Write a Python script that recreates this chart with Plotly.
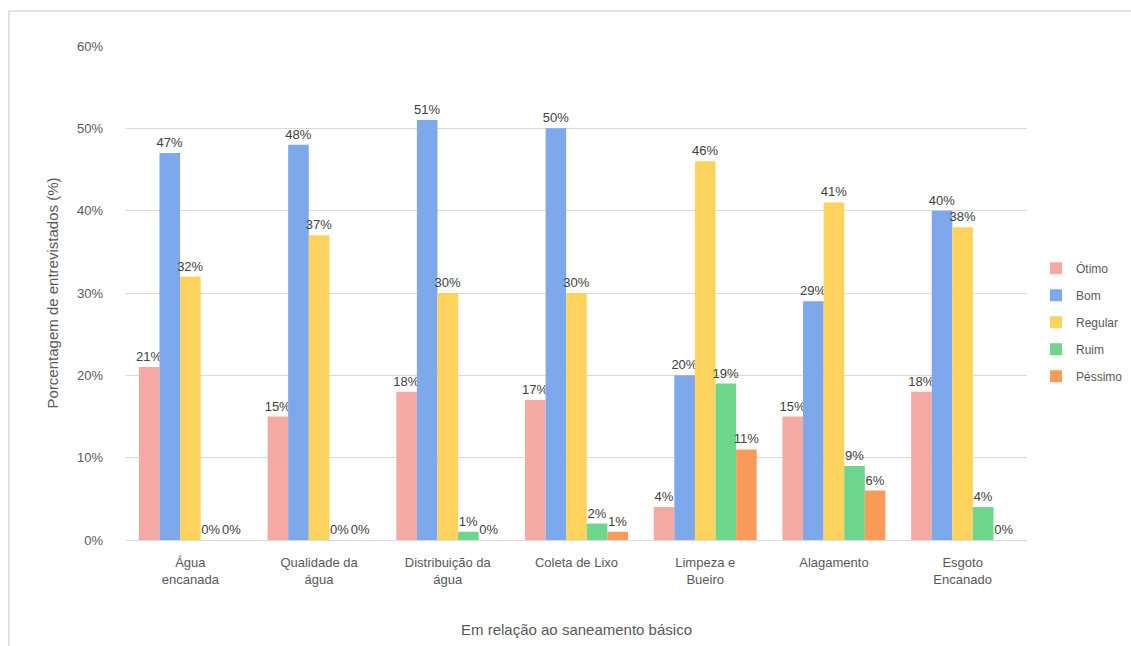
import plotly.graph_objects as go

categories = ["Água<br>encanada", "Qualidade da<br>água", "Distribuição da<br>água",
              "Coleta de Lixo", "Limpeza e<br>Bueiro", "Alagamento", "Esgoto<br>Encanado"]
series_names = ["Ótimo", "Bom", "Regular", "Ruim", "Péssimo"]
otimo = [0.21, 0.15, 0.18, 0.17, 0.04, 0.15, 0.18]
bom = [0.47, 0.48, 0.51, 0.50, 0.20, 0.29, 0.40]
regular = [0.32, 0.37, 0.30, 0.30, 0.46, 0.41, 0.38]
ruim = [0.00, 0.00, 0.01, 0.02, 0.19, 0.09, 0.04]
pessimo = [0.00, 0.00, 0.00, 0.01, 0.11, 0.06, 0.00]
colors = ["#F4A9A2", "#7EA8EC", "#FDD35E", "#6DD68C", "#F99A58"]
y_ticks = [0, 0.1, 0.2, 0.3, 0.4, 0.5, 0.6]

values = [otimo, bom, regular, ruim, pessimo]
fig = go.Figure()
for name, vals, col in zip(series_names, values, colors):
    fig.add_trace(go.Bar(
        x=categories, y=vals, name=name, legendgroup=name,
        marker=dict(color=col, line=dict(width=0)),
        text=[f"{round(v*100)}%" for v in vals],
        textposition="outside", cliponaxis=False, constraintext="none",
        textfont=dict(size=13, color="#404040", family="Liberation Sans, Arial, sans-serif"),
    ))

fig.update_layout(
    width=1131, height=646,
    barmode="group", bargap=0.2, bargroupgap=0,
    paper_bgcolor="white", plot_bgcolor="white",
    font=dict(family="Liberation Sans, Arial, sans-serif", color="#595959", size=13),
    margin=dict(l=126, r=104, t=46, b=106, autoexpand=False),
    uniformtext=dict(minsize=13, mode="show"),
    showlegend=True,
    legend=dict(x=1.010, y=0.441, yanchor="middle", xanchor="left",
                font=dict(size=12, color="#595959"), tracegroupgap=8,
                itemwidth=30, bgcolor="rgba(0,0,0,0)"),
    shapes=[dict(type="rect", xref="paper", yref="paper",
                 x0=(9-126)/901, x1=(1140-126)/901,
                 y0=(540-660)/494, y1=(540-11)/494,
                 line=dict(color="#D9D9D9", width=1.5), fillcolor="rgba(0,0,0,0)", layer="below")],
)
fig.update_yaxes(range=[0, 0.6], tickvals=y_ticks, tickformat=".0%",
                 showgrid=True, gridcolor="#D9D9D9", gridwidth=1, zeroline=False,
                 showline=False, ticklabelstandoff=22,
                 tickfont=dict(size=13, color="#595959"),
                 title=dict(text="Porcentagem de entrevistados (%)", standoff=14,
                            font=dict(size=15, color="#595959")))
fig.update_xaxes(showline=True, linecolor="#D9D9D9", linewidth=1,
                 tickfont=dict(size=13, color="#595959"), ticklabelstandoff=10,
                 title=dict(text="Em relação ao saneamento básico", standoff=38,
                            font=dict(size=15, color="#595959")))

fig.write_html("out.html")
